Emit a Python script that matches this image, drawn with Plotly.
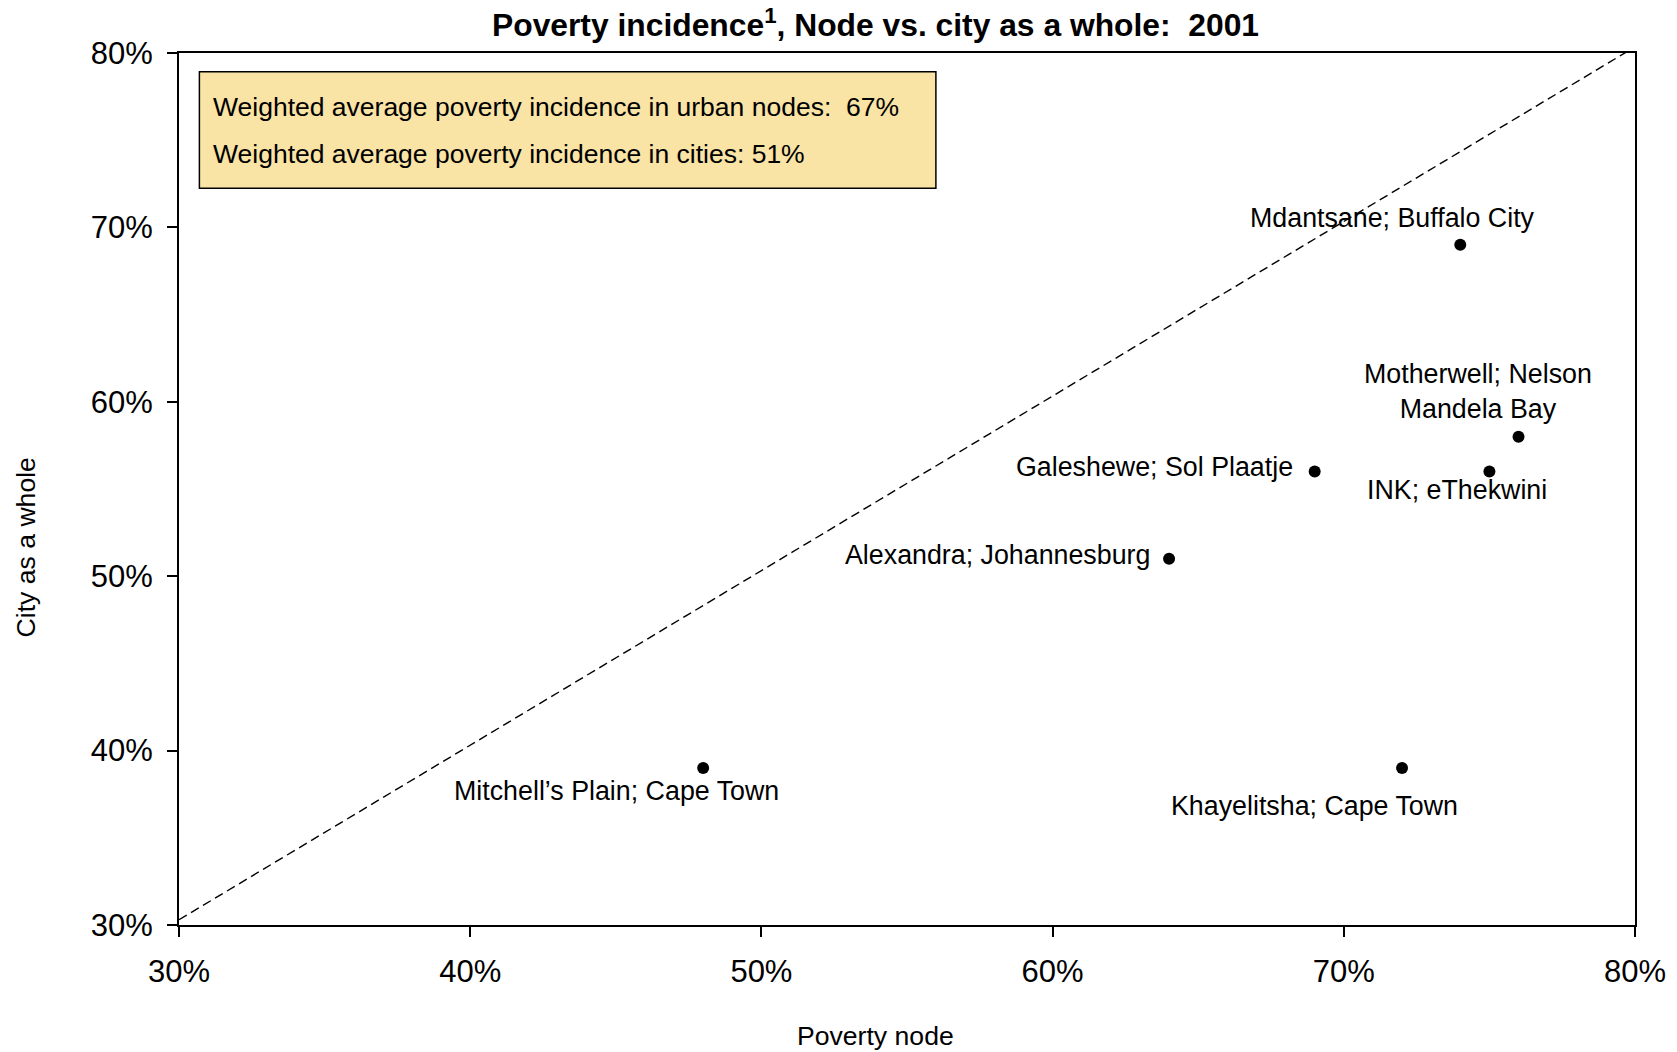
import plotly.graph_objects as go

# ---- data ----
names = [
    "Mitchell\u2019s Plain; Cape Town",
    "Khayelitsha; Cape Town",
    "Alexandra; Johannesburg",
    "Galeshewe; Sol Plaatje",
    "INK; eThekwini",
    "Motherwell; Nelson<br>Mandela Bay",
    "Mdantsane; Buffalo City",
]
node_poverty = [48, 72, 64, 69, 75, 76, 74]
city_poverty = [39, 39, 51, 56, 56, 58, 69]
diag_x = [30, 80]
diag_y = [30.3, 80.35]
tick_vals = [30, 40, 50, 60, 70, 80]
tick_text = ["30%", "40%", "50%", "60%", "70%", "80%"]
box_lines = [
    "Weighted average poverty incidence in urban nodes: \u00a067%",
    "Weighted average poverty incidence in cities: 51%",
]

# ---- label placement (style) ----
label_style = [
    dict(xanchor="center", xshift=-87, yshift=-23),
    dict(xanchor="center", xshift=-88, yshift=-38),
    dict(xanchor="right", xshift=-17, yshift=4),
    dict(xanchor="right", xshift=-20, yshift=5),
    dict(xanchor="center", xshift=-32, yshift=-18),
    dict(xanchor="center", xshift=-41, yshift=45),
    dict(xanchor="center", xshift=-68, yshift=27),
]

FONT = "Liberation Sans, Arial, sans-serif"
W, H = 1677, 1052
# plot area in page pixels
L, R, T, B = 178.6, 1635.0, 53.0, 925.0
PW, PH = R - L, B - T


def px(x):
    return (x - L) / PW


def py(y):
    return (B - y) / PH


fig = go.Figure()
fig.add_trace(go.Scatter(
    x=diag_x, y=diag_y, mode="lines",
    line=dict(color="black", width=1.4, dash="9px,5px"),
    hoverinfo="skip", showlegend=False, cliponaxis=False,
))
fig.add_trace(go.Scatter(
    x=node_poverty, y=city_poverty, mode="markers",
    marker=dict(color="black", size=12),
    showlegend=False, cliponaxis=False,
))

ann = []
for n, xv, yv, st in zip(names, node_poverty, city_poverty, label_style):
    ann.append(dict(
        x=xv, y=yv, xref="x", yref="y", text=n, showarrow=False,
        yanchor="middle", align="center",
        font=dict(family=FONT, size=26.8, color="black"), **st,
    ))

# title
ann.append(dict(
    x=px(875), y=py(23), xref="paper", yref="paper",
    text="<b>Poverty incidence<sup>1</sup>, Node vs. city as a whole: \u00a02001</b>",
    showarrow=False, xanchor="center", yanchor="middle",
    font=dict(family=FONT, size=31.8, color="black"),
))
# axis titles
ann.append(dict(
    x=px(875), y=py(1036), xref="paper", yref="paper", text="Poverty node",
    showarrow=False, xanchor="center", yanchor="middle",
    font=dict(family=FONT, size=26.6, color="black"),
))
ann.append(dict(
    x=px(26), y=py(547), xref="paper", yref="paper", text="City as a whole",
    showarrow=False, xanchor="center", yanchor="middle", textangle=-90,
    font=dict(family=FONT, size=26.6, color="black"),
))
# box text
for line, yc in zip(box_lines, [107, 154]):
    ann.append(dict(
        x=px(210.7), y=py(yc), xref="paper", yref="paper", text=line,
        showarrow=False, xanchor="left", yanchor="middle",
        font=dict(family=FONT, size=26.5, color="black"),
    ))

shapes = [dict(
    type="rect", xref="paper", yref="paper",
    x0=px(199), x1=px(935.7), y0=py(188.3), y1=py(71.7),
    fillcolor="#F9E3A5", line=dict(color="black", width=1.5), layer="below",
)]

axis_common = dict(
    tickvals=tick_vals, ticktext=tick_text, showgrid=False, zeroline=False,
    showline=True, linecolor="black", linewidth=2, mirror=True,
    ticks="outside", ticklen=10, tickwidth=1.5, tickcolor="black",
    tickfont=dict(family=FONT, size=31, color="black"),
)

fig.update_layout(
    width=W, height=H,
    margin=dict(l=L, r=W - R, t=T, b=H - B, pad=0),
    paper_bgcolor="white", plot_bgcolor="white",
    xaxis=dict(range=[30, 80], ticklabelstandoff=8, automargin=False, **axis_common),
    yaxis=dict(range=[30, 80], ticklabelstandoff=8, automargin=False, **axis_common),
    annotations=ann, shapes=shapes,
    font=dict(family=FONT, color="black"),
)

fig.write_html(
    "out.html",
    config={"displayModeBar": False},
    post_script="document.body.style.margin='0px';document.body.style.overflow='hidden';",
)
